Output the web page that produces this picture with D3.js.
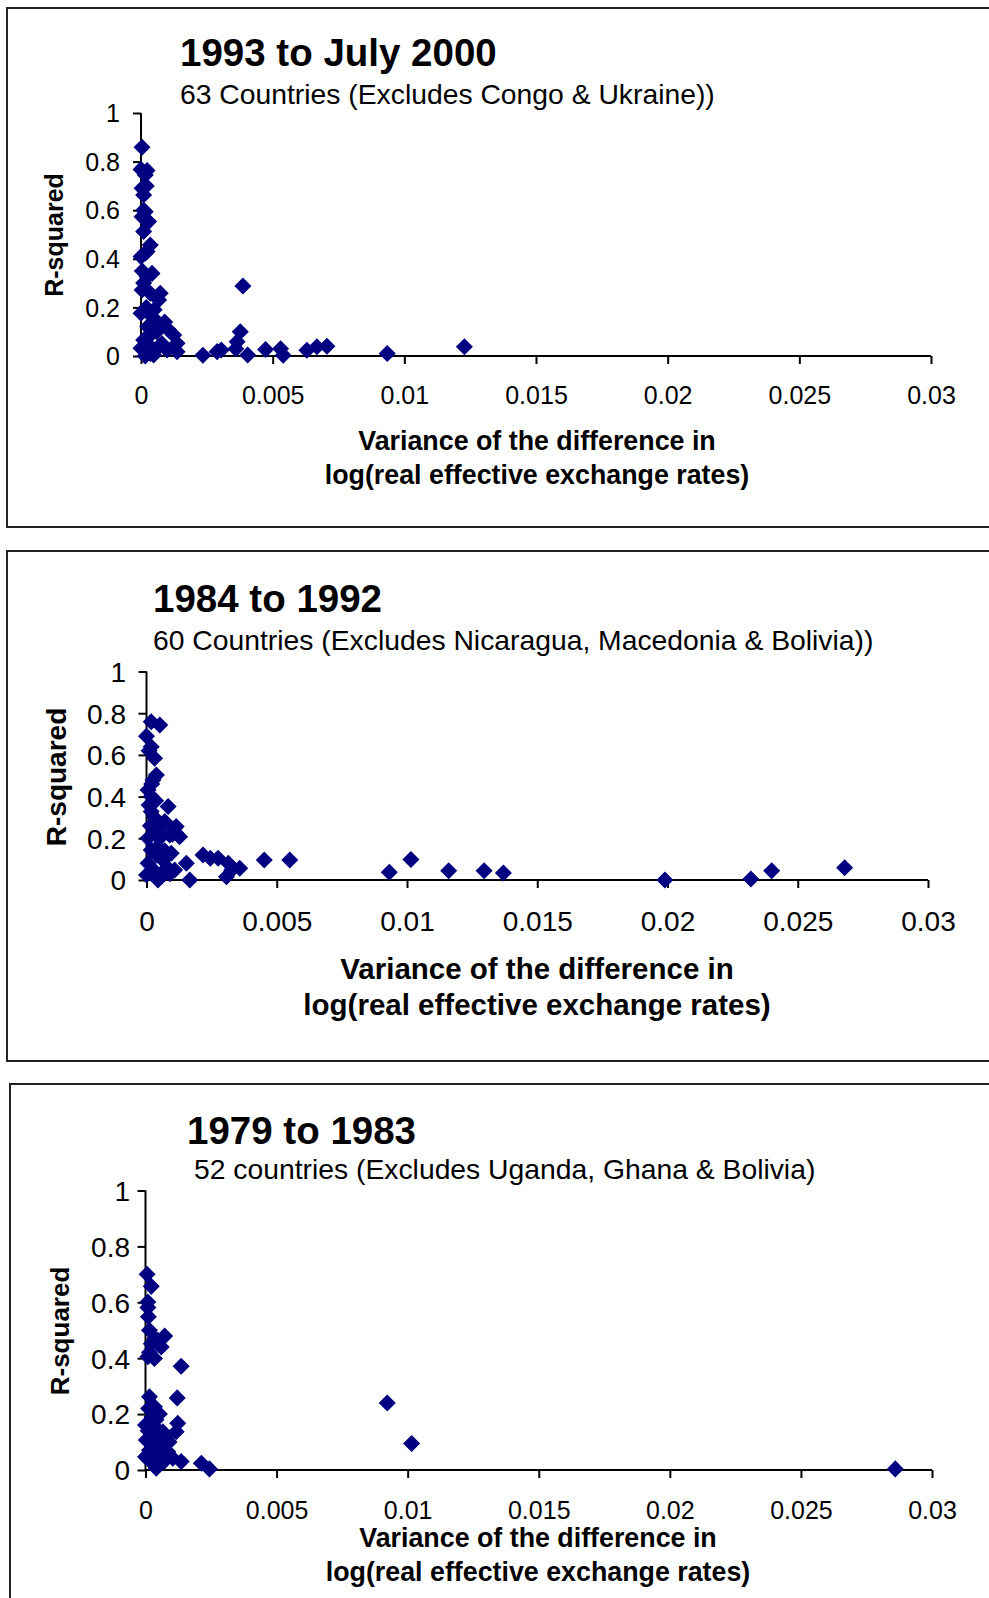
<!doctype html>
<html>
<head>
<meta charset="utf-8">
<script src="https://cdn.jsdelivr.net/npm/d3@7"></script>
<style>
  body { margin: 0; background: #fff; }
  svg { display: block; font-family: "Liberation Sans", Arial, sans-serif; }
</style>
</head>
<body>
<svg id="chart" width="989" height="1598"></svg>
<script>
var xTicks = [0, 0.005, 0.01, 0.015, 0.02, 0.025, 0.03];
var yTicks = [0, 0.2, 0.4, 0.6, 0.8, 1];

var titles = ["1993 to July 2000", "1984 to 1992", "1979 to 1983"];
var subtitles = [
    "63 Countries (Excludes Congo & Ukraine))",
    "60 Countries (Excludes Nicaragua, Macedonia & Bolivia))",
    "52 countries (Excludes Uganda, Ghana & Bolivia)"
];
var xTitle = ["Variance of the difference in", "log(real effective exchange rates)"];
var yTitle = "R-squared";

// variance (x), R-squared (y)
var data1993 = [
    [0.00004,0.859],[0,0.768],[0.00023,0.763],[0.00016,0.745],[0.00004,0.69],[0.0001,0.663],
    [0.00016,0.594],[0.00004,0.573],[0.00029,0.553],[0.0001,0.512],[0.00035,0.457],[0.00016,0.423],
    [0,0.409],[0.00023,0.43],[0.00042,0.34],[0.00023,0.326],[0.0001,0.30],[0.00004,0.272],
    [0.00073,0.258],[0.00035,0.258],[0.00067,0.23],[0,0.176],[0.00042,0.162],[0.0002,0.2],
    [0.00067,0.134],[0.0009,0.14],[0.00105,0.107],[0.00124,0.086],[0.00137,0.052],[0.00137,0.018],
    [0,0.032],[0.00029,0.045],[0.00067,0.038],[0.00016,0],[0.00048,0.004],[0.00099,0.025],
    [0.0001,0.066],[0.00035,0.01],[0.0008,0.05],[0.00054,0.025],[0.0001,0.6],[0.0002,0.7],
    [0.00005,0.35],[0.0005,0.19],[0.00025,0.12],[0.0003,0.08],[0.0006,0.1],
    [0.00235,0.003],[0.00289,0.018],[0.00305,0.025],[0.00365,0.059],[0.00377,0.1],[0.00387,0.288],
    [0.00405,0.004],[0.0036,0.03],[0.00473,0.027],[0.0053,0.03],[0.0054,0.003],[0.0063,0.024],
    [0.00668,0.038],[0.00706,0.04],[0.00935,0.01],[0.01228,0.038]
];

var data1984 = [
    [0.00018,0.759],[0.00051,0.743],[0,0.69],[0.00018,0.639],[0.00031,0.584],[0.00038,0.504],
    [0.00025,0.48],[0.00006,0.432],[0.00018,0.40],[0.00083,0.352],[0.00018,0.328],[0.00057,0.256],
    [0.00114,0.256],[0.00031,0.224],[0.00089,0.216],[0.00127,0.208],[0.00006,0.2],[0.00018,0.144],
    [0.00044,0.16],[0.00095,0.128],[0.00063,0.096],[0.00108,0.048],[0.00153,0.08],[0.00166,0],
    [0,0.024],[0.00044,0],[0.00006,0.08],[0.0001,0.62],[0.0002,0.46],[0.0003,0.3],
    [0.0005,0.2],[0.0007,0.28],[0.0004,0.12],[0.00025,0.05],[0.0008,0.06],[0.0001,0.36],
    [0.0006,0.02],[0.00035,0.38],[0.001,0.22],[0.00015,0.26],[0.0007,0.14],[0.0009,0.03],
    [0.00217,0.12],[0.00245,0.104],[0.00275,0.104],[0.00314,0.08],[0.00327,0.048],[0.00358,0.056],
    [0.00307,0.016],[0.00452,0.096],[0.0055,0.096],[0.00932,0.037],[0.01015,0.098],[0.0116,0.044],
    [0.01296,0.044],[0.0137,0.034],[0.0199,0],[0.0232,0.005],[0.024,0.044],[0.0268,0.059]
];

var data1979 = [
    [0.00006,0.70],[0.00022,0.657],[0.00009,0.601],[0.00009,0.581],[0.00011,0.548],[0.00015,0.50],
    [0.00073,0.479],[0.00047,0.464],[0.00022,0.452],[0.0006,0.44],[0.00009,0.405],[0.00034,0.399],
    [0.00136,0.371],[0.00015,0.262],[0.00121,0.258],[0.00034,0.226],[0.00053,0.2],[0.00123,0.167],
    [0,0.161],[0.00028,0.149],[0.00117,0.137],[0.00066,0.137],[0.00003,0.107],[0.00053,0.095],
    [0.00085,0.065],[0,0.047],[0.00034,0.024],[0.00136,0.03],[0.00104,0.042],[0.00213,0.024],
    [0.00244,0.004],[0.00041,0.006],[0.00015,0.071],[0.0001,0.14],[0.0002,0.12],[0.0004,0.18],
    [0.0003,0.08],[0.0006,0.05],[0.0008,0.12],[0.00045,0.11],[0.0002,0.03],[0.00012,0.22],
    [0.0007,0.03],[0.0009,0.1],[0.00035,0.47],[0.00015,0.42],[0.0005,0.14],[0.00025,0.19],
    [0.00055,0.07],[0.00922,0.24],[0.01015,0.095],[0.0286,0.004]
];

var panels = [
    { data: data1993, box: [7, 8, 519],
      x0: 141, x1: 931, y0: 356, y1: 113,
      title: [180, 66], sub: [180, 104], xTickY: 404, xTickSize: 25, yTickX: 120, yTickSize: 25,
      xTitleX: 537, xTitleY: [450, 484], xTitleSize: 26.8, yTitleX: 63, yTitleY: 235, yTitleSize: 25 },
    { data: data1984, box: [7, 551, 510],
      x0: 146.5, x1: 928, y0: 880, y1: 671.5,
      title: [153, 612], sub: [153, 650], xTickY: 931, xTickSize: 28, yTickX: 126, yTickSize: 28,
      xTitleX: 537, xTitleY: [979, 1015], xTitleSize: 29.5, yTitleX: 66, yTitleY: 777, yTitleSize: 28 },
    { data: data1979, box: [10, 1084, 600],
      x0: 145.5, x1: 932, y0: 1470, y1: 1190.5,
      title: [187, 1144], sub: [194, 1179], xTickY: 1519, xTickSize: 25, yTickX: 130, yTickSize: 28,
      xTitleX: 538, xTitleY: [1547, 1581], xTitleSize: 26.8, yTitleX: 69, yTitleY: 1331, yTitleSize: 26 }
];

var svg = d3.select("#chart");
var diamond = d3.symbol().type(d3.symbolSquare).size(145);

panels.forEach(function(p, i) {
    var g = svg.append("g");

    g.append("rect")
     .attr("x", p.box[0]).attr("y", p.box[1])
     .attr("width", 1000).attr("height", p.box[2])
     .attr("fill", "none").attr("stroke", "#222").attr("stroke-width", 2);

    g.append("text")
     .attr("x", p.title[0]).attr("y", p.title[1])
     .attr("font-size", "38.5px").attr("font-weight", "bold")
     .text(titles[i]);

    g.append("text")
     .attr("x", p.sub[0]).attr("y", p.sub[1])
     .attr("font-size", "28.3px")
     .text(subtitles[i]);

    var x = d3.scaleLinear().domain([0, 0.03]).range([p.x0, p.x1]);
    var y = d3.scaleLinear().domain([0, 1]).range([p.y0, p.y1]);

    // x axis
    var xa = g.append("g").attr("transform", "translate(0," + p.y0 + ")")
        .call(d3.axisBottom(x).tickValues(xTicks).tickSize(8).tickFormat(function(d) { return String(+d.toFixed(3)); }));
    xa.attr("font-family", null);
    xa.select(".domain").attr("stroke", "#000").attr("stroke-width", 2).attr("d", "M" + p.x0 + ",0H" + p.x1);
    xa.selectAll(".tick line").attr("stroke", "#000").attr("stroke-width", 2);
    xa.selectAll(".tick text").attr("y", p.xTickY - p.y0).attr("dy", null)
      .attr("font-size", p.xTickSize + "px").attr("fill", "#000");

    // y axis
    var ya = g.append("g").attr("transform", "translate(" + p.x0 + ",0)")
        .call(d3.axisLeft(y).tickValues(yTicks).tickSize(8).tickFormat(function(d) { return String(+d.toFixed(1)); }));
    ya.attr("font-family", null);
    ya.select(".domain").attr("stroke", "#000").attr("stroke-width", 2).attr("d", "M0," + p.y0 + "V" + p.y1);
    ya.selectAll(".tick line").attr("stroke", "#000").attr("stroke-width", 2);
    ya.selectAll(".tick text").attr("x", p.yTickX - p.x0).attr("dy", "0.35em")
      .attr("font-size", p.yTickSize + "px").attr("fill", "#000");

    xTitle.forEach(function(t, k) {
        g.append("text")
         .attr("x", p.xTitleX).attr("y", p.xTitleY[k])
         .attr("text-anchor", "middle")
         .attr("font-size", p.xTitleSize + "px").attr("font-weight", "bold")
         .text(t);
    });

    g.append("text")
     .attr("transform", "translate(" + p.yTitleX + "," + p.yTitleY + ") rotate(-90)")
     .attr("text-anchor", "middle")
     .attr("font-size", p.yTitleSize + "px").attr("font-weight", "bold")
     .text(yTitle);

    // markers drawn last so they sit over the axes
    g.selectAll(".pt")
     .data(p.data)
     .enter().append("path")
     .attr("class", "pt")
     .attr("d", diamond)
     .attr("transform", function(d) { return "translate(" + x(d[0]) + "," + y(d[1]) + ") rotate(45)"; })
     .attr("fill", "#000080");
});
</script>
</body>
</html>
